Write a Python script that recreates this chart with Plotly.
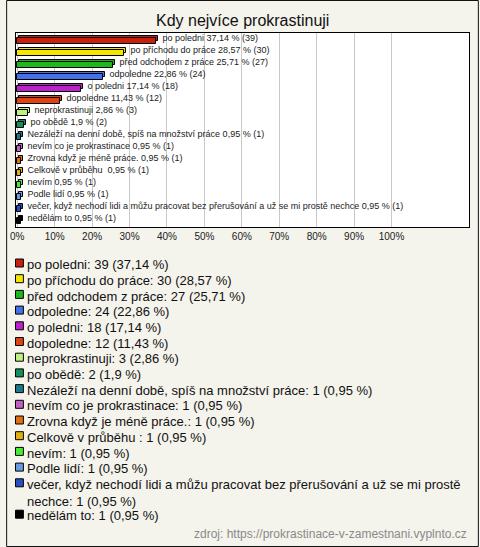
import textwrap
import plotly.graph_objects as go

# ---------------- data ----------------
categories = [
    "po poledni",
    "po příchodu do práce",
    "před odchodem z práce",
    "odpoledne",
    "o poledni",
    "dopoledne",
    "neprokrastinuji",
    "po obědě",
    "Nezáleží na denní době, spíš na množství práce",
    "nevím co je prokrastinace",
    "Zrovna když je méně práce.",
    "Celkově v průběhu ",
    "nevím",
    "Podle lidí",
    "večer, když nechodí lidi a můžu pracovat bez přerušování a už se mi prostě nechce",
    "nedělám to",
]
counts = [39, 30, 27, 24, 18, 12, 3, 2, 1, 1, 1, 1, 1, 1, 1, 1]
percents = [37.14, 28.57, 25.71, 22.86, 17.14, 11.43, 2.86, 1.9,
            0.95, 0.95, 0.95, 0.95, 0.95, 0.95, 0.95, 0.95]
colors = ["#c8200e", "#f5e600", "#1cb81c", "#4470e8", "#bb22cc", "#dd4411",
          "#c0f080", "#11905a", "#1a7a8a", "#c060c0", "#e07010", "#e0b010",
          "#44ee33", "#6a9ae0", "#2a50c0", "#000000"]
tick_values = [0, 10, 20, 30, 40, 50, 60, 70, 80, 90, 100]
tick_labels = ["0%", "10%", "20%", "30%", "40%", "50%", "60%", "70%", "80%", "90%", "100%"]
title_text = "Kdy nejvíce prokrastinuji"
source_text = "zdroj: https://prokrastinace-v-zamestnani.vyplnto.cz"

# ---------------- layout helpers ----------------
W, H = 480, 547
L, R, T, B = 10, 10, 33, 320
PW, PH = W - L - R, H - T - B


def px_x(p):
    return (p - L) / PW


def px_y(p):
    return (H - B - p) / PH


def fmt(p):
    return f"{p:g}".replace(".", ",")


FONT = "Liberation Sans, Arial, sans-serif"
bar_text = [f"  {c} {fmt(p)} % ({n})" for c, p, n in zip(categories, percents, counts)]

BW = 0.42      # bar thickness (category units)
SHIFT_Y = 0.17  # 3D depth upward
SHIFT_X = 0.45  # 3D depth rightwards (percent units)

fig = go.Figure()
# back face (3D depth)
fig.add_trace(go.Bar(
    y=categories, x=percents, base=SHIFT_X, orientation="h",
    width=BW, offset=-BW / 2 - SHIFT_Y,
    marker=dict(color=colors, line=dict(color="black", width=1)),
    text=bar_text, textposition="outside", textangle=0, constraintext="none",
    textfont=dict(family=FONT, size=9, color="#222222"),
    cliponaxis=False, showlegend=False, hoverinfo="skip",
))
# front face
fig.add_trace(go.Bar(
    y=categories, x=percents, base=0, orientation="h",
    width=BW, offset=-BW / 2,
    marker=dict(color=colors, line=dict(color="black", width=1)),
    cliponaxis=False, showlegend=False, hoverinfo="skip",
))

# ---------------- custom legend ----------------
annotations = []
shapes = []
row_y = 263.0
STEP = 15.7
for c, n, p, col in zip(categories, counts, percents, colors):
    label = f"{c}: {n} ({fmt(p)} %)"
    lines = textwrap.wrap(label, width=75) or [label]
    annotations.append(dict(
        x=px_x(19), y=px_y(row_y - STEP / 2), xref="paper", yref="paper",
        xanchor="left", yanchor="top", align="left", showarrow=False,
        text="<br>".join(lines),
        font=dict(family=FONT, size=13, color="#111111"),
    ))
    shapes.append(dict(
        type="rect", xref="paper", yref="paper",
        x0=px_x(9.5), x1=px_x(17.5), y0=px_y(row_y - 4), y1=px_y(row_y + 4),
        fillcolor=col, line=dict(color="black", width=1),
    ))
    row_y += STEP * len(lines)

annotations.append(dict(
    x=px_x(470), y=px_y(534), xref="paper", yref="paper",
    xanchor="right", yanchor="middle", showarrow=False, text=source_text,
    font=dict(family=FONT, size=12, color="#8a8a8a"),
))
annotations.append(dict(
    x=0.5, y=px_y(20), xref="paper", yref="paper",
    xanchor="center", yanchor="middle", showarrow=False, text=title_text,
    font=dict(family=FONT, size=16, color="#111111"),
))
# outer frame
shapes.append(dict(
    type="rect", xref="paper", yref="paper",
    x0=px_x(0.5), x1=px_x(W - 0.5), y0=px_y(0.5), y1=px_y(H - 0.5),
    line=dict(color="#111111", width=1), fillcolor="rgba(0,0,0,0)", layer="above",
))

fig.update_layout(
    width=W, height=H,
    margin=dict(l=L, r=R, t=T, b=B, pad=0),
    paper_bgcolor="#f4f3ec", plot_bgcolor="white",
    barmode="overlay", bargap=0,
    annotations=annotations, shapes=shapes,
    showlegend=False,
    xaxis=dict(
        range=[-0.34, 120.7], tickvals=tick_values, ticktext=tick_labels,
        showgrid=True, gridcolor="#c8c8c8", gridwidth=1, zeroline=False,
        showline=True, mirror=True, linecolor="black", linewidth=1,
        ticks="", tickfont=dict(family=FONT, size=10, color="#222222"),
        fixedrange=True,
    ),
    yaxis=dict(
        categoryorder="array", categoryarray=categories,
        range=[15.5, -0.667], showticklabels=False, showgrid=False,
        zeroline=False, showline=True, mirror=True, linecolor="black",
        linewidth=1, ticks="", fixedrange=True,
    ),
)

fig.write_html(
    "out.html",
    config={"displayModeBar": False},
    post_script="document.body.style.margin='0';document.body.style.overflow='hidden';",
)
